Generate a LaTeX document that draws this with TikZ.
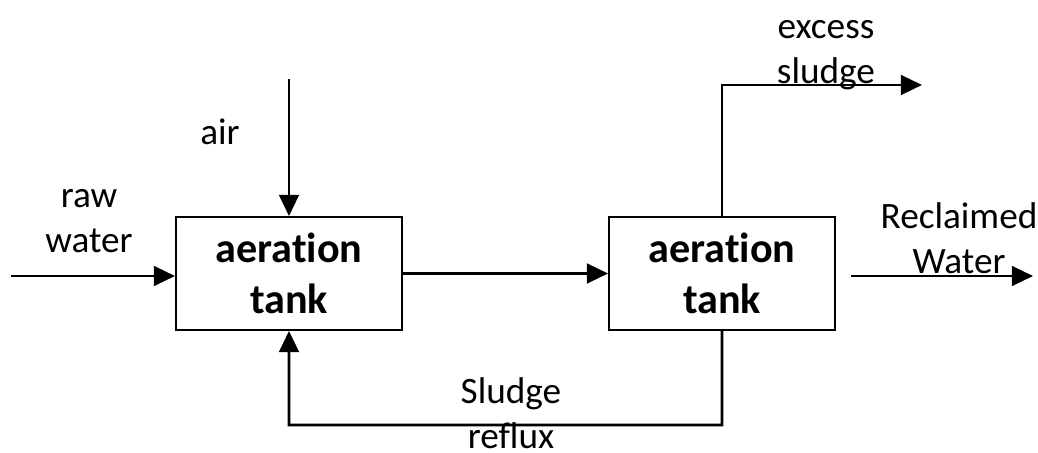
\documentclass[tikz,border=0pt]{standalone}
\usepackage{fontspec}
\setmainfont{Carlito}[Ligatures=NoCommon]
\usepackage{tikz}
\usetikzlibrary{arrows.meta,positioning}
\tikzstyle{arrow} = [line width=1.8pt,-{Triangle[length=15pt,width=14pt]}]
\tikzstyle{tank} = [rectangle, draw, line width=1.4pt, minimum width=5.65cm, minimum height=2.825cm, inner sep=0pt, align=center, font=\fontsize{30}{36.3}\selectfont\bfseries]
\tikzstyle{label} = [align=center, inner sep=0pt, font=\fontsize{26.5}{32}\selectfont]

\begin{document}
\begin{tikzpicture}
\useasboundingbox (0,0) rectangle (25.95,11.325);
% Tanks
\node (t1) [tank] at (7.225,4.4875) {aeration\\tank};
\node (t2) [tank, right of=t1, node distance=10.825cm] {aeration\\tank};

% Loose ends
\coordinate (rawin) at (0.275,4.425);
\coordinate (airin) at (7.225,9.35);
\coordinate (excess) at (23.05,9.2);
\coordinate (clean0) at (21.275,4.425);
\coordinate (clean1) at (25.825,4.425);
\coordinate (back) at (18.05,0.7);

% Labels
\node (lraw) [label] at (2.225,5.8) {raw\\water};
\node (lair) [label, anchor=base] at (5.5,7.7) {air};
\node (lexcess) [label] at (20.65,9.95) {excess\\sludge};
\node (lclean) [label] at (23.975,5.38) {Reclaimed\\Water};
\node (lback) [label] at (12.775,1.0) {Sludge\\reflux};

% Arrows
\draw[arrow] (rawin) -- (rawin -| t1.west);
\draw[arrow] (airin) -- (t1.north);
\draw[arrow] (t1) -- (t2);
\draw[arrow] (t2.north) |- (excess);
\draw[arrow] (clean0) -- (clean1);
\draw[arrow] (t2.south) -- (back) -| (t1.south);
\end{tikzpicture}
\end{document}
